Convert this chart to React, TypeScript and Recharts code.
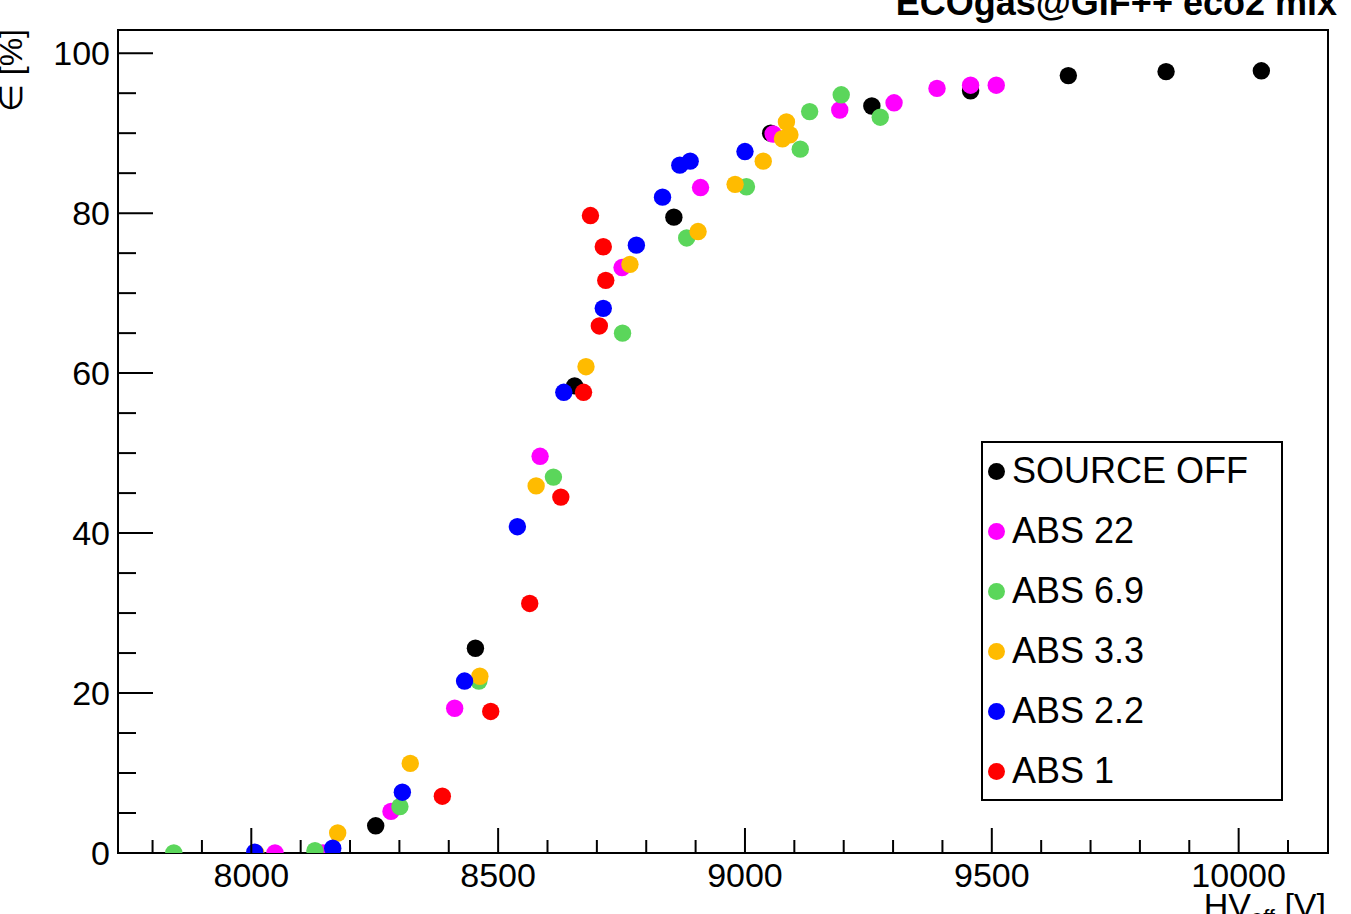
import React from 'react';
import { ScatterChart, Scatter, XAxis, YAxis, ReferenceArea, Legend } from 'recharts';

// ---- data (HV_eff in V, efficiency in %) ----
const sourceOffHV = [8252, 8454, 8655, 8856, 9052, 9257, 9457, 9655, 9853, 10046];
const sourceOffEff = [3.4, 25.6, 58.4, 79.5, 90.0, 93.4, 95.3, 97.2, 97.7, 97.8];

const abs22HV = [8048, 8145, 8283, 8412, 8585, 8751, 8910, 9057, 9192, 9302, 9389, 9457, 9509];
const abs22Eff = [0, 0, 5.2, 18.1, 49.6, 73.2, 83.2, 89.9, 92.9, 93.8, 95.6, 96.0, 96.0];

const abs69HV = [7843, 8129, 8301, 8461, 8612, 8752, 8882, 9003, 9112, 9131, 9195, 9274];
const abs69Eff = [0, 0.3, 5.8, 21.5, 47.0, 65.0, 76.9, 83.3, 88.0, 92.7, 94.8, 92.0];

const abs33HV = [8009, 8175, 8322, 8463, 8577, 8678, 8767, 8905, 8980, 9037, 9084, 9091, 9076];
const abs33Eff = [0, 2.5, 11.2, 22.1, 45.9, 60.8, 73.6, 77.7, 83.6, 86.5, 91.4, 89.8, 89.3];

const abs22_2HV = [8007, 8165, 8306, 8432, 8539, 8633, 8713, 8780, 8833, 8868, 8889, 9000];
const abs22_2Eff = [0.1, 0.6, 7.6, 21.5, 40.8, 57.6, 68.1, 76.0, 82.0, 86.0, 86.5, 87.7];

const abs1HV = [8387, 8485, 8564, 8627, 8673, 8705, 8718, 8713, 8687];
const abs1Eff = [7.1, 17.7, 31.2, 44.5, 57.6, 65.9, 71.6, 75.8, 79.7];

const seriesNames = ['SOURCE OFF', 'ABS 22', 'ABS 6.9', 'ABS 3.3', 'ABS 2.2', 'ABS 1'];
const seriesColors = ['#000000', '#ff00ff', '#5bd65b', '#ffbb00', '#0000ff', '#ff0000'];

const xTicks = [7800, 7900, 8000, 8100, 8200, 8300, 8400, 8500, 8600, 8700, 8800, 8900, 9000, 9100, 9200, 9300, 9400, 9500, 9600, 9700, 9800, 9900, 10000, 10100];
const yTicks = [0, 5, 10, 15, 20, 25, 30, 35, 40, 45, 50, 55, 60, 65, 70, 75, 80, 85, 90, 95, 100];

const XMIN = 7730;
const XMAX = 10181;
const YMIN = 0;
const YMAX = 102.9;

const FONT = '"Liberation Sans", Arial, Helvetica, sans-serif';

const zip = (hv: number[], eff: number[]) => hv.map((h, i) => ({ hv: h, eff: eff[i] }));

const allSeries = [
  zip(sourceOffHV, sourceOffEff),
  zip(abs22HV, abs22Eff),
  zip(abs69HV, abs69Eff),
  zip(abs33HV, abs33Eff),
  zip(abs22_2HV, abs22_2Eff),
  zip(abs1HV, abs1Eff),
];

const renderXTick = (props: any) => {
  const { x, y, payload } = props;
  const v = payload.value;
  const major = v % 500 === 0;
  return (
    <g>
      <line x1={x} x2={x} y1={y} y2={y - (major ? 25 : 13)} stroke="#000" strokeWidth={2} />
      {major && (
        <text x={x} y={y + 34} textAnchor="middle" fontSize={34} fill="#000" fontFamily={FONT}>
          {v}
        </text>
      )}
    </g>
  );
};

const renderYTick = (props: any) => {
  const { x, y, payload } = props;
  const v = payload.value;
  const major = v % 20 === 0;
  return (
    <g>
      <line x1={x} x2={x + (major ? 35 : 18)} y1={y} y2={y} stroke="#000" strokeWidth={2} />
      {major && (
        <text x={x - 8} y={y + 12} textAnchor="end" fontSize={34} fill="#000" fontFamily={FONT}>
          {v}
        </text>
      )}
    </g>
  );
};

const makeShape = (color: string) => (p: any) => (
  <circle cx={p.cx} cy={p.cy} r={8.7} fill={color} />
);

const LegendBox = (props: any) => {
  const payload: any[] = props.payload || [];
  const ordered = seriesNames.map((n, i) => {
    const found = payload.find((e: any) => e.value === n);
    return { value: n, color: (found && found.color) || seriesColors[i] };
  });
  return (
    <div
      style={{
        boxSizing: 'border-box',
        width: 302,
        height: 360,
        border: '2px solid #000',
        background: '#fff',
        fontFamily: FONT,
        overflow: 'hidden',
      }}
    >
      {ordered.map((entry, i) => (
        <div
          key={i}
          style={{
            height: 60,
            lineHeight: '60px',
            marginTop: i === 0 ? -2 : 0,
            fontSize: 36,
            color: '#000',
            display: 'flex',
            alignItems: 'center',
            whiteSpace: 'nowrap',
          }}
        >
          <span
            style={{
              display: 'inline-block',
              width: 17,
              height: 17,
              borderRadius: 9,
              background: entry.color,
              marginLeft: 5,
              marginRight: 7,
            }}
          />
          <span>{entry.value}</span>
        </div>
      ))}
    </div>
  );
};

export default function App() {
  return (
    <div
      style={{
        position: 'absolute',
        left: 0,
        top: 0,
        width: 1351,
        height: 914,
        background: '#fff',
        fontFamily: FONT,
        overflow: 'hidden',
      }}
    >
      <ScatterChart width={1351} height={914} margin={{ top: 30, right: 23, bottom: 60, left: 117 }}>
        <XAxis
          type="number"
          dataKey="hv"
          domain={[XMIN, XMAX]}
          allowDataOverflow
          ticks={xTicks}
          interval={0}
          height={1}
          tickSize={0}
          tickMargin={0}
          tickLine={false}
          axisLine={{ stroke: '#000', strokeWidth: 2 }}
          tick={renderXTick}
        />
        <YAxis
          type="number"
          dataKey="eff"
          domain={[YMIN, YMAX]}
          allowDataOverflow
          ticks={yTicks}
          interval={0}
          width={1}
          tickSize={0}
          tickMargin={0}
          tickLine={false}
          axisLine={{ stroke: '#000', strokeWidth: 2 }}
          tick={renderYTick}
        />
        <ReferenceArea
          x1={XMIN}
          x2={XMAX}
          y1={YMIN}
          y2={YMAX}
          fill="none"
          fillOpacity={0}
          stroke="#000"
          strokeWidth={2}
          ifOverflow="visible"
        />
        {allSeries.map((data, i) => (
          <Scatter
            key={seriesNames[i]}
            name={seriesNames[i]}
            data={data}
            fill={seriesColors[i]}
            isAnimationActive={false}
            shape={makeShape(seriesColors[i])}
          />
        ))}
        <Legend
          layout="vertical"
          align="center"
          verticalAlign="middle"
          content={<LegendBox />}
          wrapperStyle={{ position: 'absolute', left: 981, top: 441, width: 302, height: 360, margin: 0, padding: 0 }}
        />
      </ScatterChart>
      <svg
        width={1351}
        height={914}
        style={{ position: 'absolute', left: 0, top: 0, pointerEvents: 'none' }}
      >
        <text x={1337} y={15} textAnchor="end" fontSize={36} fontWeight="bold" fill="#000" fontFamily={FONT}>
          ECOgas@GIF++ eco2 mix
        </text>
        <text x={1326} y={917} textAnchor="end" fontSize={34} fill="#000" fontFamily={FONT}>
          HV
          <tspan fontSize={22} dy={8}>eff</tspan>
          <tspan dy={-8}> [V]</tspan>
        </text>
        <text
          x={22}
          y={29}
          transform="rotate(-90 22 29)"
          textAnchor="end"
          fontSize={32}
          fill="#000"
          fontFamily={FONT}
        >
          {'\u2208 [%]'}
        </text>
      </svg>
    </div>
  );
}
